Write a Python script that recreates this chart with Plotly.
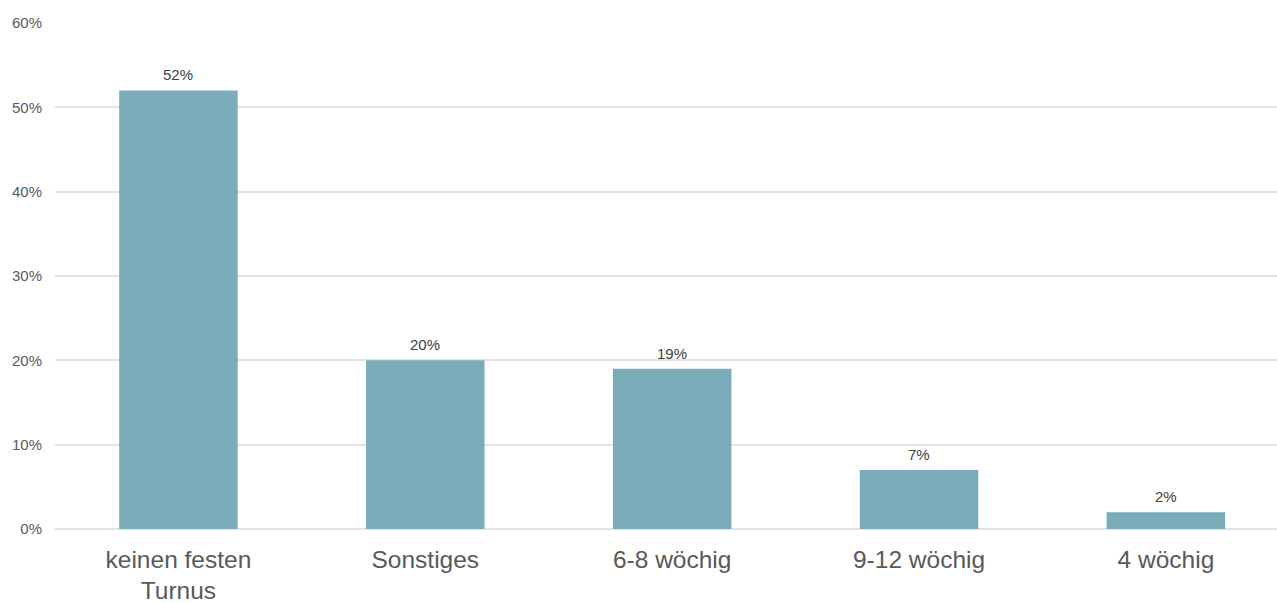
import plotly.graph_objects as go

categories = ["keinen festen<br>Turnus", "Sonstiges", "6-8 wöchig", "9-12 wöchig", "4 wöchig"]
values = [52, 20, 19, 7, 2]
value_labels = ["52%", "20%", "19%", "7%", "2%"]
y_ticks = [0, 10, 20, 30, 40, 50, 60]
y_tick_labels = ["0%", "10%", "20%", "30%", "40%", "50%", "60%"]

fig = go.Figure(go.Bar(
    x=categories, y=values,
    marker=dict(color="#7BACB9", line=dict(width=0)),
    width=0.48, cliponaxis=False,
))
for c, v, t in zip(categories, values, value_labels):
    fig.add_annotation(x=c, y=v, text=t, showarrow=False, yanchor="bottom",
                       yshift=5, font=dict(size=15, color="#404040"))
fig.update_layout(
    width=1277, height=603,
    margin=dict(l=55, r=0, t=23, b=74, autoexpand=False),
    plot_bgcolor="white", paper_bgcolor="white",
    font=dict(family="Liberation Sans, Arial, sans-serif", color="#595959"),
    showlegend=False,
    xaxis=dict(range=[-0.5, 4.45], tickfont=dict(size=24.5, color="#595959"),
               showgrid=False, showline=False, ticks="", ticklabelstandoff=13,
               automargin=False),
    yaxis=dict(range=[0, 60], tickvals=y_ticks, ticktext=y_tick_labels,
               tickfont=dict(size=15, color="#595959"),
               showgrid=True, gridcolor="#E3E3E3", gridwidth=1.5,
               zeroline=True, zerolinecolor="#E3E3E3", zerolinewidth=1.5,
               ticks="", ticklabelstandoff=12, automargin=False),
)
fig.write_html("out.html")
